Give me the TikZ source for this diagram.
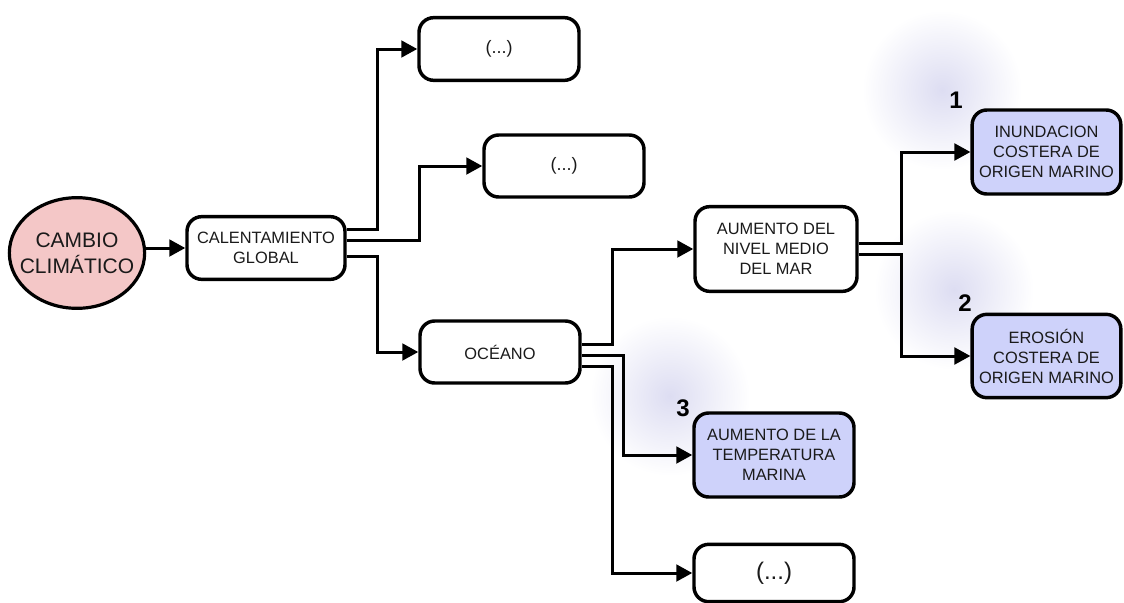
\documentclass[tikz,border=0pt]{standalone}
\usepackage{fontspec}
\setmainfont{Liberation Sans}
\usetikzlibrary{arrows.meta,calc,shapes.geometric}
\definecolor{pinkfill}{RGB}{244,199,199}
\definecolor{bluefill}{RGB}{206,210,250}
\definecolor{glowc}{RGB}{221,221,242}
\definecolor{txt}{RGB}{26,26,26}
\begin{document}
\begin{tikzpicture}[x=0.75pt,y=-0.75pt,
  box/.style={draw=black,line width=2.6pt,rounded corners=11pt,fill=white,
    align=center,text=txt,font=\fontsize{12.3pt}{15pt}\selectfont,
    inner sep=0pt,minimum width=120pt},
  hot/.style={box,fill=bluefill},
  arr/.style={line width=2.25pt,-{Triangle[length=12pt,width=12.5pt]}},
  num/.style={font=\fontsize{18pt}{20pt}\selectfont\bfseries,text=black,inner sep=0pt},
  glow/.style={inner color=glowc,outer color=white}]
\useasboundingbox (0,0) rectangle (1124,603);

% soft halos behind the numbers
\begin{scope}
\clip (0,0) rectangle (1124,603);
\shade[glow] (942,90) circle (80);
\shade[glow] (954,290) circle (80);
\shade[glow] (670,396) circle (80);
\end{scope}

% nodes
\node[ellipse,draw=black,line width=2.4pt,fill=pinkfill,text=txt,align=center,
  minimum width=100.5pt,minimum height=83pt,inner xsep=-7pt,inner ysep=0pt,
  font=\fontsize{15.75pt}{19.5pt}\selectfont] (circ) at (77,253) {CAMBIO\\CLIM\'ATICO};
\node[box,minimum width=118.5pt,minimum height=47pt] (calent) at (266,248) {CALENTAMIENTO\\GLOBAL};
\node[box,minimum height=47pt,font=\fontsize{13.5pt}{15pt}\selectfont] (dotsA) at (499,49) {(...)};
\node[box,minimum height=46.5pt,font=\fontsize{13.5pt}{15pt}\selectfont] (dotsB) at (564,166) {(...)};
\node[box,minimum height=46.5pt] (ocean) at (500,352) {OC\'EANO};
\node[box,minimum width=121.5pt,minimum height=63.5pt] (nivel) at (776,249) {AUMENTO DEL\\NIVEL MEDIO\\DEL MAR};
\node[hot,minimum height=63pt] (temp) at (774,455) {AUMENTO DE LA\\TEMPERATURA\\MARINA};
\node[box,minimum height=43pt,font=\fontsize{18pt}{20pt}\selectfont] (dotsC) at (774,573) {(...)};
\node[hot,minimum width=111.5pt,minimum height=63pt] (inund) at (1046.5,152) {INUNDACION\\COSTERA DE\\ORIGEN MARINO};
\node[hot,minimum width=111.5pt,minimum height=62.5pt] (eros) at (1046.5,356) {EROSI\'ON\\COSTERA DE\\ORIGEN MARINO};

% numbering
\node[num] (n1) at (956,100) {1};
\node[num] (n2) at (965,303) {2};
\node[num] (n3) at (683,408) {3};

% connectors
\draw[arr] (circ.east |- calent.west) -- (calent.west);

\draw[arr] ($(calent.east)+(0,-19)$) -- ++(31,0) |- (dotsA.west);
\draw[arr] ($(calent.east)+(0,-7.5)$) -- ++(73,0) |- (dotsB.west);
\draw[arr] ($(calent.east)+(0,8)$) -- ++(31,0) |- (ocean.west);

\draw[arr] ($(ocean.east)+(0,-8)$) -- ++(31,0) |- (nivel.west);
\draw[arr] ($(ocean.east)+(0,3)$) -- ++(42,0) |- (temp.west);
\draw[arr] ($(ocean.east)+(0,14)$) -- ++(31,0) |- (dotsC.west);

\draw[arr] ($(nivel.east)+(0,-5.5)$) -- ++(43,0) |- (inund.west);
\draw[arr] ($(nivel.east)+(0,5.5)$) -- ++(43,0) |- (eros.west);
\end{tikzpicture}
\end{document}
